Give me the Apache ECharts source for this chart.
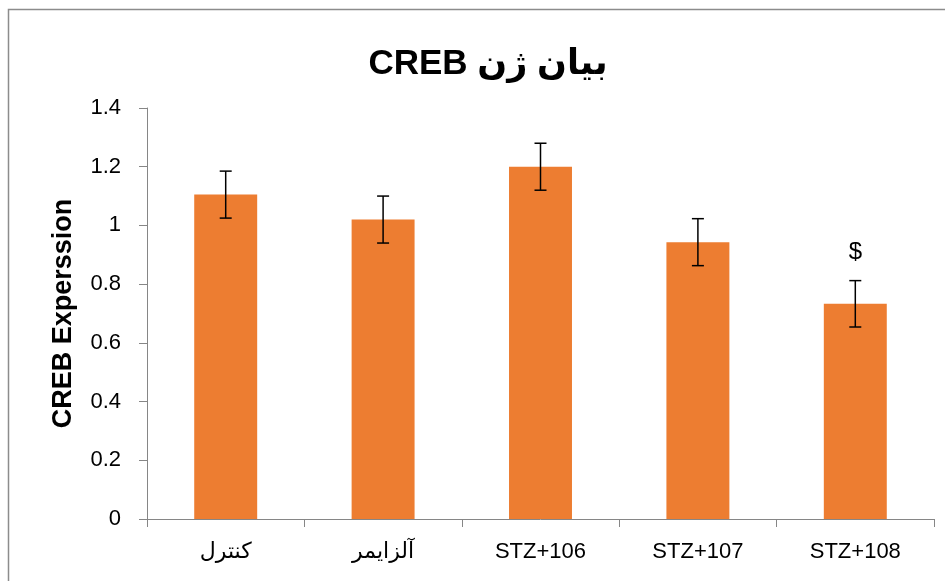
<!DOCTYPE html>
<html>
<head>
<meta charset="utf-8">
<script src="https://cdn.jsdelivr.net/npm/echarts@6/dist/echarts.min.js"></script>
<style>
    html, body { margin: 0; padding: 0; background: #fff; }
    #chart { width: 945px; height: 581px; }
</style>
</head>
<body>
<div id="chart"></div>
<script>
const categories = ['کنترل', 'آلزایمر', 'STZ+106', 'STZ+107', 'STZ+108'];
const values = [1.105, 1.02, 1.2, 0.943, 0.733];
const errors = [0.08, 0.08, 0.08, 0.08, 0.079];
const signs = ['', '', '', '', '$'];

const renderErrorBar = (params, api) => {
    const idx = api.value(0);
    const val = api.value(1);
    const err = api.value(2);
    const top = api.coord([idx, val + err]);
    const bottom = api.coord([idx, val - err]);
    const half = 6;
    const lineStyle = { stroke: '#000', lineWidth: 1.5 };
    const children = [
        { type: 'line', shape: { x1: top[0], y1: top[1], x2: bottom[0], y2: bottom[1] }, style: lineStyle },
        { type: 'line', shape: { x1: top[0] - half, y1: top[1], x2: top[0] + half, y2: top[1] }, style: lineStyle },
        { type: 'line', shape: { x1: bottom[0] - half, y1: bottom[1], x2: bottom[0] + half, y2: bottom[1] }, style: lineStyle }
    ];
    const sign = signs[params.dataIndex];
    if (sign) {
        children.push({
            type: 'text',
            style: {
                x: top[0],
                y: top[1] - 28,
                text: sign,
                align: 'center',
                verticalAlign: 'middle',
                font: '24px "Liberation Sans", Arial, sans-serif',
                fill: '#000'
            }
        });
    }
    return { type: 'group', children: children };
};

const chart = echarts.init(document.querySelector('#chart'));
chart.setOption({
    animation: false,
    backgroundColor: '#fff',
    title: {
        text: 'CREB بیان ژن',
        left: 483,
        top: 42,
        textAlign: 'center',
        textStyle: {
            fontFamily: '"Liberation Sans", "DejaVu Sans", sans-serif',
            fontWeight: 'bold',
            fontSize: 35,
            color: '#000'
        }
    },
    graphic: [
        {
            type: 'rect',
            silent: true,
            shape: { x: 8.5, y: 9.5, width: 1000, height: 1000 },
            style: { fill: 'none', stroke: '#8c8c8c', lineWidth: 1.5 }
        }
    ],
    grid: {
        left: 147,
        right: 11,
        top: 108,
        bottom: 62,
        outerBoundsMode: 'none'
    },
    xAxis: {
        type: 'category',
        data: categories,
        axisLine: { lineStyle: { color: '#868686', width: 1 } },
        axisTick: { show: true, length: 8, lineStyle: { color: '#868686' } },
        axisLabel: {
            margin: 22,
            fontSize: 22,
            fontFamily: '"Liberation Sans", "DejaVu Sans", sans-serif',
            color: '#000'
        }
    },
    yAxis: {
        type: 'value',
        min: 0,
        max: 1.4,
        interval: 0.2,
        name: 'CREB Experssion',
        nameLocation: 'middle',
        nameGap: 70,
        nameTextStyle: {
            fontFamily: '"Liberation Sans", sans-serif',
            fontWeight: 'bold',
            fontSize: 27,
            color: '#000'
        },
        splitLine: { show: false },
        axisLine: { show: true, lineStyle: { color: '#868686', width: 1 } },
        axisTick: { show: true, length: 8, lineStyle: { color: '#868686' } },
        axisLabel: {
            margin: 26,
            fontSize: 22,
            fontFamily: '"Liberation Sans", sans-serif',
            color: '#000'
        }
    },
    series: [
        {
            type: 'bar',
            data: values,
            barWidth: '40%',
            itemStyle: { color: '#ED7D31' }
        },
        {
            type: 'custom',
            renderItem: renderErrorBar,
            data: categories.map((_, i) => [i, values[i], errors[i]]),
            z: 10
        }
    ]
});
</script>
</body>
</html>
